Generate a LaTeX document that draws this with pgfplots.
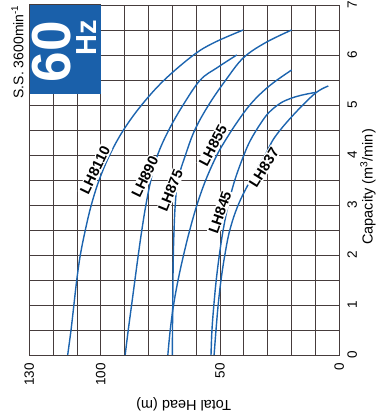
\documentclass[border=0pt]{standalone}
\usepackage{fontspec}
\setmainfont{Liberation Sans}
\usepackage{pgfplots}
\pgfplotsset{compat=1.18}
\definecolor{curve}{RGB}{28,100,175}
\definecolor{boxc}{RGB}{26,96,170}
\definecolor{gridc}{RGB}{70,60,60}
\tikzset{pc/.style={curve, line width=1.4bp, smooth, tension=0.6, mark=none}}
\begin{document}
\begin{tikzpicture}
\begin{axis}[at={(0bp,0bp)}, anchor=south west, width=310bp, height=350bp, scale only axis,
 x dir=reverse, xmin=0, xmax=130, ymin=0, ymax=7,
 xtick={0,10,...,130}, ytick={0,0.5,...,7}, xticklabels={}, yticklabels={},
 major tick length=0pt, grid=major, major grid style={gridc, line width=0.9bp},
 axis line style={gridc, line width=1bp}]
% LH8110
\addplot[pc] coordinates {(113.9,0) (112.5,0.5) (111.3,1.0) (110.1,1.5) (108.6,2.0) (106.5,2.5) (104.0,3.0) (100.7,3.5) (96.3,4.0) (90.5,4.5) (82.9,5.0) (73.4,5.5) (61.1,6.0) (52.4,6.25) (40.3,6.5)};
% LH890
\addplot[pc] coordinates {(89.8,0) (88.5,0.5) (87.1,1.0) (85.7,1.5) (84.3,2.0) (82.8,2.5) (81.1,3.0) (79.0,3.5) (76.2,4.0) (71.5,4.5) (65.5,5.0) (58.3,5.5) (51.1,5.75) (43.0,6.0)};
% LH875
\addplot[pc] coordinates {(70.0,0) (69.95,0.5) (69.85,1.0) (69.75,1.5) (69.6,2.0) (69.3,2.5) (68.8,3.0) (67.7,3.5) (64.5,4.0) (60.6,4.5) (54.8,5.0) (47.6,5.5) (40.3,5.94) (31.2,6.24) (20.0,6.5)};
% LH855
\addplot[pc] coordinates {(71.9,0) (70.9,0.5) (69.5,1.0) (67.6,1.5) (65.3,2.0) (62.7,2.5) (59.7,3.0) (56.0,3.5) (51.3,4.0) (46.9,4.36) (42.5,4.68) (38.2,4.96) (33.6,5.2) (27.8,5.44) (20.0,5.7)};
% LH845
\addplot[pc] coordinates {(53.8,0) (53.4,0.5) (52.6,1.0) (51.6,1.5) (50.3,2.0) (48.7,2.5) (46.6,3.0) (43.8,3.5) (40.0,4.0) (37.2,4.3) (33.0,4.63) (29.5,4.85) (24.9,5.03) (20.5,5.13) (15.5,5.2) (10.2,5.25)};
% LH837
\addplot[pc] coordinates {(52.5,0) (51.7,0.5) (50.8,1.0) (49.6,1.5) (48.0,2.0) (45.9,2.5) (42.4,3.0) (37.2,3.5) (31.1,4.0) (27.0,4.36) (19.3,4.8) (10.2,5.23) (4.6,5.38)};
\end{axis}
% 60 Hz box
\fill[boxc] (0bp,261bp) rectangle (71.4bp,350bp);
\draw[gridc, line width=1bp] (0bp,261bp) -- (0bp,350bp) -- (71.4bp,350bp);
\node[rotate=90, text=white, inner sep=0pt, font=\fontsize{55bp}{60bp}\selectfont\bfseries] at (22.7bp,303.3bp) {60};
\node[rotate=90, text=white, inner sep=0pt, font=\fontsize{29bp}{32bp}\selectfont\bfseries] at (57.4bp,317.5bp) {Hz};
% curve labels
\tikzset{lbl/.style={fill=white, text=black, inner sep=1.2bp, font=\fontsize{14.5bp}{16bp}\selectfont\bfseries}}
\node[lbl, rotate=64] at (65.7bp,185bp) {LH8110};
\node[lbl, rotate=64] at (115.7bp,178bp) {LH890};
\node[lbl, rotate=68] at (141.2bp,164.5bp) {LH875};
\node[lbl, rotate=62] at (183.7bp,209.5bp) {LH855};
\node[lbl, rotate=71] at (190.7bp,142.5bp) {LH845};
\node[lbl, rotate=58] at (234.7bp,187.5bp) {LH837};
% tick labels
\tikzset{tl/.style={inner sep=0pt, font=\fontsize{13.5bp}{15bp}\selectfont}}
\foreach \h in {130,100,50,0} {
  \pgfmathsetmacro{\xx}{310-2.3846*\h}
  \node[tl, rotate=90, anchor=east] at (\xx bp,-8bp) {\h};
}
\foreach \c in {0,1,...,7} {
  \node[tl, rotate=90, anchor=north] at (318bp,50*\c bp) {\c};
}
\node[rotate=180, font=\fontsize{14.5bp}{16bp}\selectfont] at (154.4bp,-49bp) {Total Head (m)};
\node[rotate=90, font=\fontsize{14.5bp}{16bp}\selectfont] at (338.7bp,168bp) {Capacity (m\textsuperscript{3}/min)};
\node[rotate=90, anchor=base east, inner sep=0pt, font=\fontsize{14bp}{16bp}\selectfont] at (-6bp,350bp) {S.S. 3600min\textsuperscript{-1}};
\pgfresetboundingbox
\path[use as bounding box] (-29.3bp,-64bp) rectangle (352.7bp,355bp);
\end{tikzpicture}
\end{document}
